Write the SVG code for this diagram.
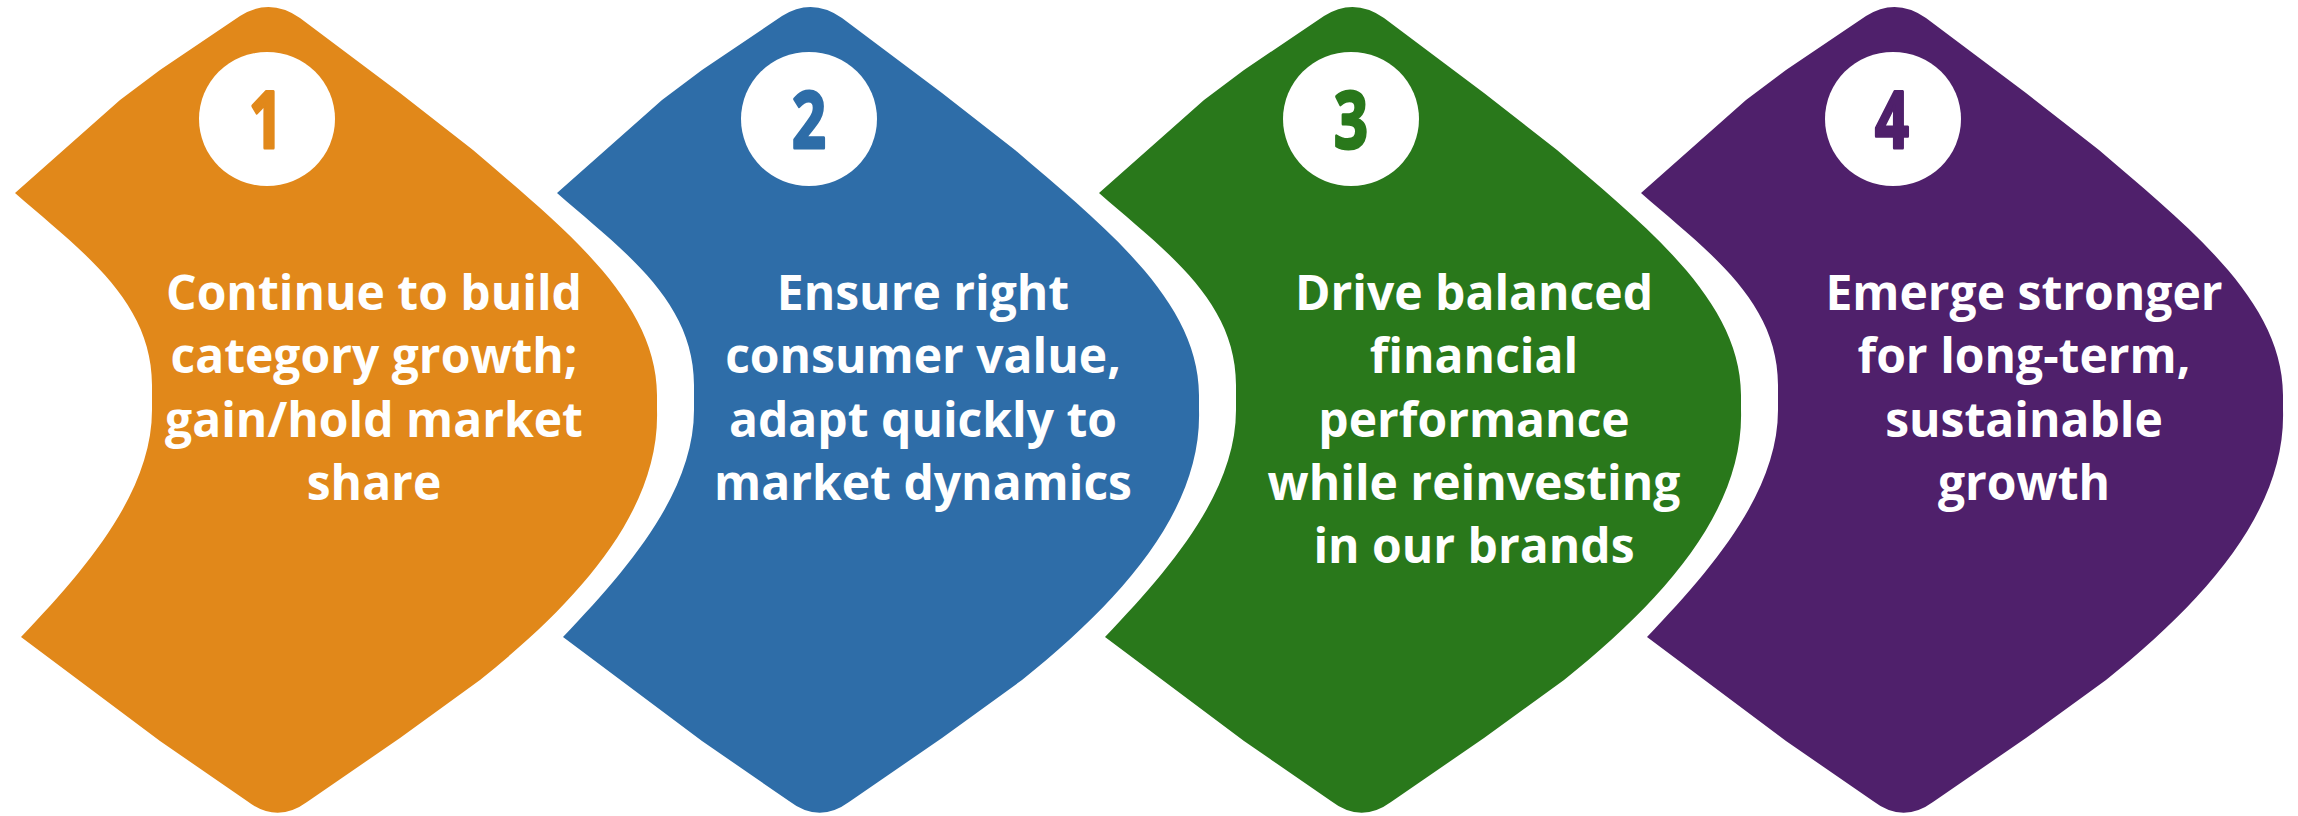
<svg xmlns="http://www.w3.org/2000/svg" xmlns:xlink="http://www.w3.org/1999/xlink" width="2298" height="816" viewBox="0 0 2298 816">
  <style>
    .orange { fill: #E1881A; }
    .blue { fill: #2E6DA8; }
    .green { fill: #29781B; }
    .purple { fill: #4F206B; }
    .badge { fill: #FFFFFF; }
    .num { font-family: "Open Sans", "DejaVu Sans", sans-serif; font-weight: 700; font-size: 78px; text-anchor: middle; stroke-width: 3; stroke-linejoin: round; }
    .n1 { fill: #E1881A; stroke: #E1881A; }
    .n2 { fill: #2E6DA8; stroke: #2E6DA8; }
    .n3 { fill: #29781B; stroke: #29781B; }
    .n4 { fill: #4F206B; stroke: #4F206B; }
    .label { font-family: "Open Sans", "Liberation Sans", sans-serif; font-weight: 700; font-size: 48px; fill: #FFFFFF; text-anchor: middle; }
  </style>
  <defs>
    <!-- wavy step panel: pointed left, bulging right, rounded top and bottom tips -->
    <path id="panel" d="M 15,193 L 120,100 L 160,70 L 240,16 Q 270,-3 300,18 L 400,93 L 473,150 C 560,225 657,300 657,395 L 657,410 C 660,510 580,600 480,680 L 400,738 L 307,802 Q 277,824 247,801 L 160,741 L 21,637 C 90,565 152,490 152,410 L 152,385 C 152,300 80,250 15,193 Z"/>
  </defs>
  <rect width="2298" height="816" fill="#FFFFFF"/>

  <g id="step1">
    <use xlink:href="#panel" class="orange"/>
    <ellipse class="badge" cx="267" cy="119" rx="68" ry="67"/>
    <text class="num n1" transform="translate(266,148) scale(0.76,1)">1</text>
    <text class="label" x="374" y="310">Continue to build</text>
    <text class="label" x="374" y="373">category growth;</text>
    <text class="label" x="374" y="437">gain/hold market</text>
    <text class="label" x="374" y="500">share</text>
  </g>

  <g id="step2">
    <use xlink:href="#panel" class="blue" transform="translate(542,0)"/>
    <ellipse class="badge" cx="809" cy="119" rx="68" ry="67"/>
    <text class="num n2" transform="translate(809,148) scale(0.76,1)">2</text>
    <text class="label" x="923" y="310">Ensure right</text>
    <text class="label" x="923" y="373">consumer value,</text>
    <text class="label" x="923" y="437">adapt quickly to</text>
    <text class="label" x="923" y="500">market dynamics</text>
  </g>

  <g id="step3">
    <use xlink:href="#panel" class="green" transform="translate(1084,0)"/>
    <ellipse class="badge" cx="1351" cy="119" rx="68" ry="67"/>
    <text class="num n3" transform="translate(1351,148) scale(0.76,1)">3</text>
    <text class="label" x="1474" y="310">Drive balanced</text>
    <text class="label" x="1474" y="373">financial</text>
    <text class="label" x="1474" y="437">performance</text>
    <text class="label" x="1474" y="500">while reinvesting</text>
    <text class="label" x="1474" y="563">in our brands</text>
  </g>

  <g id="step4">
    <use xlink:href="#panel" class="purple" transform="translate(1626,0)"/>
    <ellipse class="badge" cx="1893" cy="119" rx="68" ry="67"/>
    <text class="num n4" transform="translate(1892,148) scale(0.76,1)">4</text>
    <text class="label" x="2024" y="310">Emerge stronger</text>
    <text class="label" x="2024" y="373">for long-term,</text>
    <text class="label" x="2024" y="437">sustainable</text>
    <text class="label" x="2024" y="500">growth</text>
  </g>

  <g id="connectors"/>
</svg>
